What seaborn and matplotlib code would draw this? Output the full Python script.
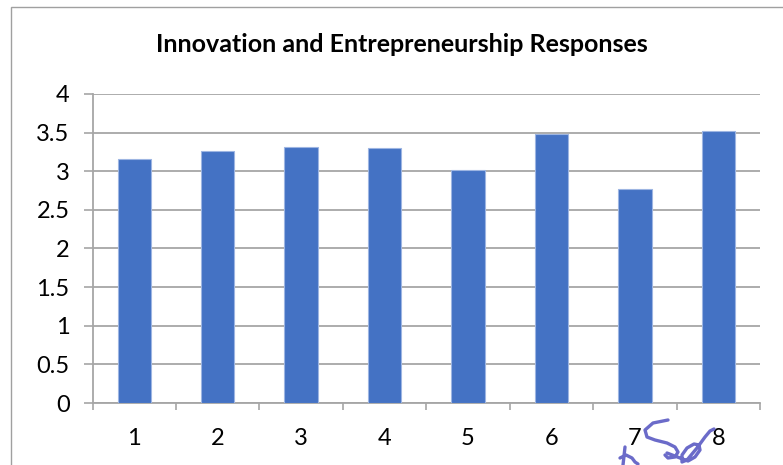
import matplotlib
matplotlib.use("Agg")
import matplotlib.pyplot as plt
from matplotlib.patches import Rectangle
from matplotlib.lines import Line2D
import seaborn as sns
import pandas as pd

# Survey item numbers and their mean responses
categories = ["1", "2", "3", "4", "5", "6", "7", "8"]
responses = [3.16, 3.26, 3.32, 3.30, 3.02, 3.48, 2.77, 3.52]
y_ticks = [0, 0.5, 1, 1.5, 2, 2.5, 3, 3.5, 4]
y_tick_labels = ["0", "0.5", "1", "1.5", "2", "2.5", "3", "3.5", "4"]
title = "Innovation and Entrepreneurship Responses"

df = pd.DataFrame({"item": categories, "mean": responses})

sns.set_theme(style="white")
plt.rcParams["font.family"] = ["Lato", "DejaVu Sans"]

W, H = 783, 465
fig = plt.figure(figsize=(W / 100, H / 100), dpi=100)
ax = fig.add_axes([92.5 / W, (H - 403) / H, (760 - 92.5) / W, (403 - 94) / H])

grid_c = "#A6A6A6"
sns.barplot(data=df, x="item", y="mean", order=categories, color="#4472C4",
            width=0.4, edgecolor="#9DB5E2", linewidth=0.8, saturation=1,
            ax=ax, zorder=3)

ax.set_ylim(0, 4)
ax.set_xlim(-0.5, len(categories) - 0.5)
ax.set_yticks(y_ticks)
ax.set_yticklabels(y_tick_labels)
ax.yaxis.grid(True, color=grid_c, linewidth=1.3, zorder=0)
ax.set_axisbelow(True)
ax.set_xlabel("")
ax.set_ylabel("")

for s in ["top", "right"]:
    ax.spines[s].set_visible(False)
for s in ["left", "bottom"]:
    ax.spines[s].set_color(grid_c)
    ax.spines[s].set_linewidth(1.3)

ax.tick_params(axis="y", left=True, length=6.5, width=1.2, color=grid_c,
               labelsize=17, pad=10, labelcolor="black")
ax.tick_params(axis="x", bottom=False, labelsize=17, pad=12, labelcolor="black")
# category boundary ticks below the axis
ax.set_xticks([i - 0.5 for i in range(len(categories) + 1)], minor=True)
ax.tick_params(axis="x", which="minor", bottom=True, length=5, width=1.2, color=grid_c)

fig.text(402 / W, 1 - 45 / H, title, ha="center", va="center",
         fontsize=18, fontweight="bold", color="black")

# chart area border
fig.patches.append(Rectangle((11 / W, -0.1), 1.2, 1 - 7 / H + 0.1,
                             transform=fig.transFigure, fill=False,
                             edgecolor="#A0A0A0", linewidth=1.0))

# handwritten initials in the lower right
ink = "#6B6BC9"
strokes = [
    [(625, 447), (624, 456), (623, 465)],
    [(620, 458), (626, 455), (632, 458), (635, 462), (638, 464)],
    [(668, 420), (653, 423), (645, 430), (647, 437), (655, 440), (667, 443),
     (675, 447), (678, 452), (675, 457), (668, 458), (665, 455)],
    [(667, 453), (680, 458), (688, 461), (695, 457), (700, 450), (699, 445),
     (694, 444), (687, 448), (682, 455), (682, 462), (687, 460), (697, 448),
     (705, 437), (710, 431), (714, 429)],
]
for pts in strokes:
    xs = [p[0] / W for p in pts]
    ys = [1 - p[1] / H for p in pts]
    fig.lines.append(Line2D(xs, ys, transform=fig.transFigure, color=ink,
                            linewidth=2.4, solid_capstyle="round",
                            solid_joinstyle="round"))

fig.savefig("out.png", dpi=100)
